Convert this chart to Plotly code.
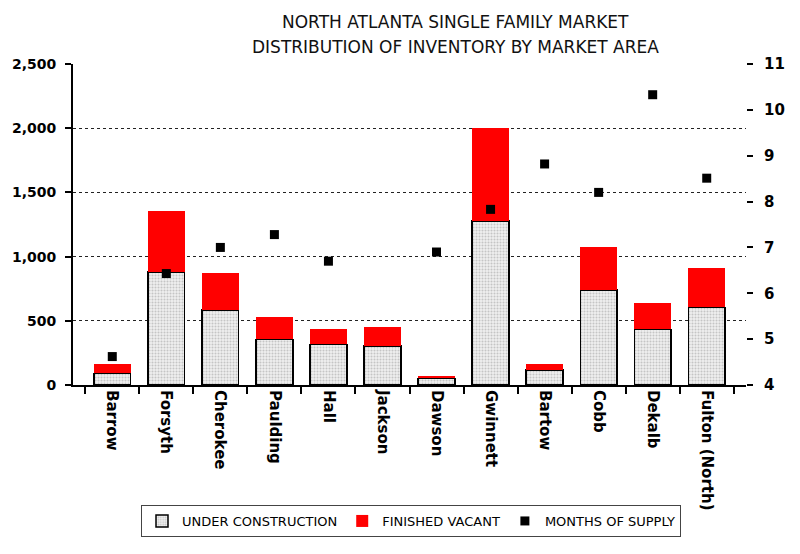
import plotly.graph_objects as go

areas = ["Barrow", "Forsyth", "Cherokee", "Paulding", "Hall", "Jackson",
         "Dawson", "Gwinnett", "Bartow", "Cobb", "Dekalb", "Fulton (North)"]
under_construction = [91, 882, 584, 356, 317, 304, 52, 1277, 117, 740, 434, 605]
finished_vacant = [70, 473, 291, 176, 117, 145, 18, 723, 49, 337, 207, 304]
months_of_supply = [4.62, 6.43, 7.0, 7.28, 6.70, None, 6.9, 7.83, 8.82, 8.2, 10.33, 8.51]

left_ticks = [0, 500, 1000, 1500, 2000, 2500]
right_ticks = [4, 5, 6, 7, 8, 9, 10, 11]
title_lines = ["NORTH ATLANTA SINGLE FAMILY MARKET",
               "DISTRIBUTION OF INVENTORY BY MARKET AREA"]

FONT = "DejaVu Sans"

fig = go.Figure()
fig.add_trace(go.Bar(
    x=areas, y=under_construction, name="UNDER CONSTRUCTION",
    marker=dict(color="#e6e6e6",
                line=dict(color="black", width=1.5),
                pattern=dict(shape=".", size=3, solidity=0.4,
                             fgcolor="#9a9a9a", bgcolor="#f0f0f0")),
))
fig.add_trace(go.Bar(
    x=areas, y=finished_vacant, name="FINISHED VACANT",
    marker=dict(color="#ff0000", line=dict(width=0)),
))
fig.add_trace(go.Scatter(
    x=areas, y=months_of_supply, name="MONTHS OF SUPPLY", yaxis="y2",
    mode="markers", marker=dict(symbol="square", size=9, color="black"),
))

for line, ypx in zip(title_lines, [22, 47]):
    fig.add_annotation(text=line, xref="paper", yref="paper",
                       x=(455 - 73) / 673, y=(385 - ypx) / 321,
                       xanchor="center", yanchor="middle", showarrow=False,
                       font=dict(family=FONT, size=17, color="#111111"))

fig.update_layout(
    width=784, height=538,
    paper_bgcolor="white", plot_bgcolor="white",
    barmode="stack", bargap=0.32,
    margin=dict(l=65, r=46, t=56, b=161, autoexpand=False),
    font=dict(family=FONT, size=14, color="black"),
    xaxis=dict(type="category", showline=True, linecolor="black", linewidth=2,
               ticks="outside", tickson="boundaries", ticklen=7, tickwidth=1.5,
               tickcolor="black", tickangle=90, automargin=False,
               tickfont=dict(family=FONT, size=15, weight="bold"),
               showgrid=False),
    yaxis=dict(range=[0, 2500], tickvals=left_ticks, tickformat=",",
               showline=True, linecolor="black", linewidth=2, automargin=False,
               ticks="outside", ticklen=6, tickwidth=1.5, tickcolor="black",
               ticklabelstandoff=6,
               tickfont=dict(family=FONT, size=14, weight="bold"),
               showgrid=True, gridcolor="#222222", gridwidth=1, griddash="dot",
               zeroline=False),
    yaxis2=dict(range=[4, 11], tickvals=right_ticks, overlaying="y", side="right",
                showline=False, showgrid=False, zeroline=False, automargin=False,
                ticks="outside", ticklen=6, tickwidth=1.5, tickcolor="black",
                ticklabelstandoff=8,
                tickfont=dict(family=FONT, size=15, weight="bold")),
    legend=dict(orientation="h", x=(411 - 73) / 673, xanchor="center",
                y=(385 - 505) / 321, yanchor="top",
                bordercolor="#444444", borderwidth=1, bgcolor="white",
                font=dict(family=FONT, size=13, color="black"),
                itemwidth=30, traceorder="normal"),
    showlegend=True,
)

fig.write_html("out.html")
